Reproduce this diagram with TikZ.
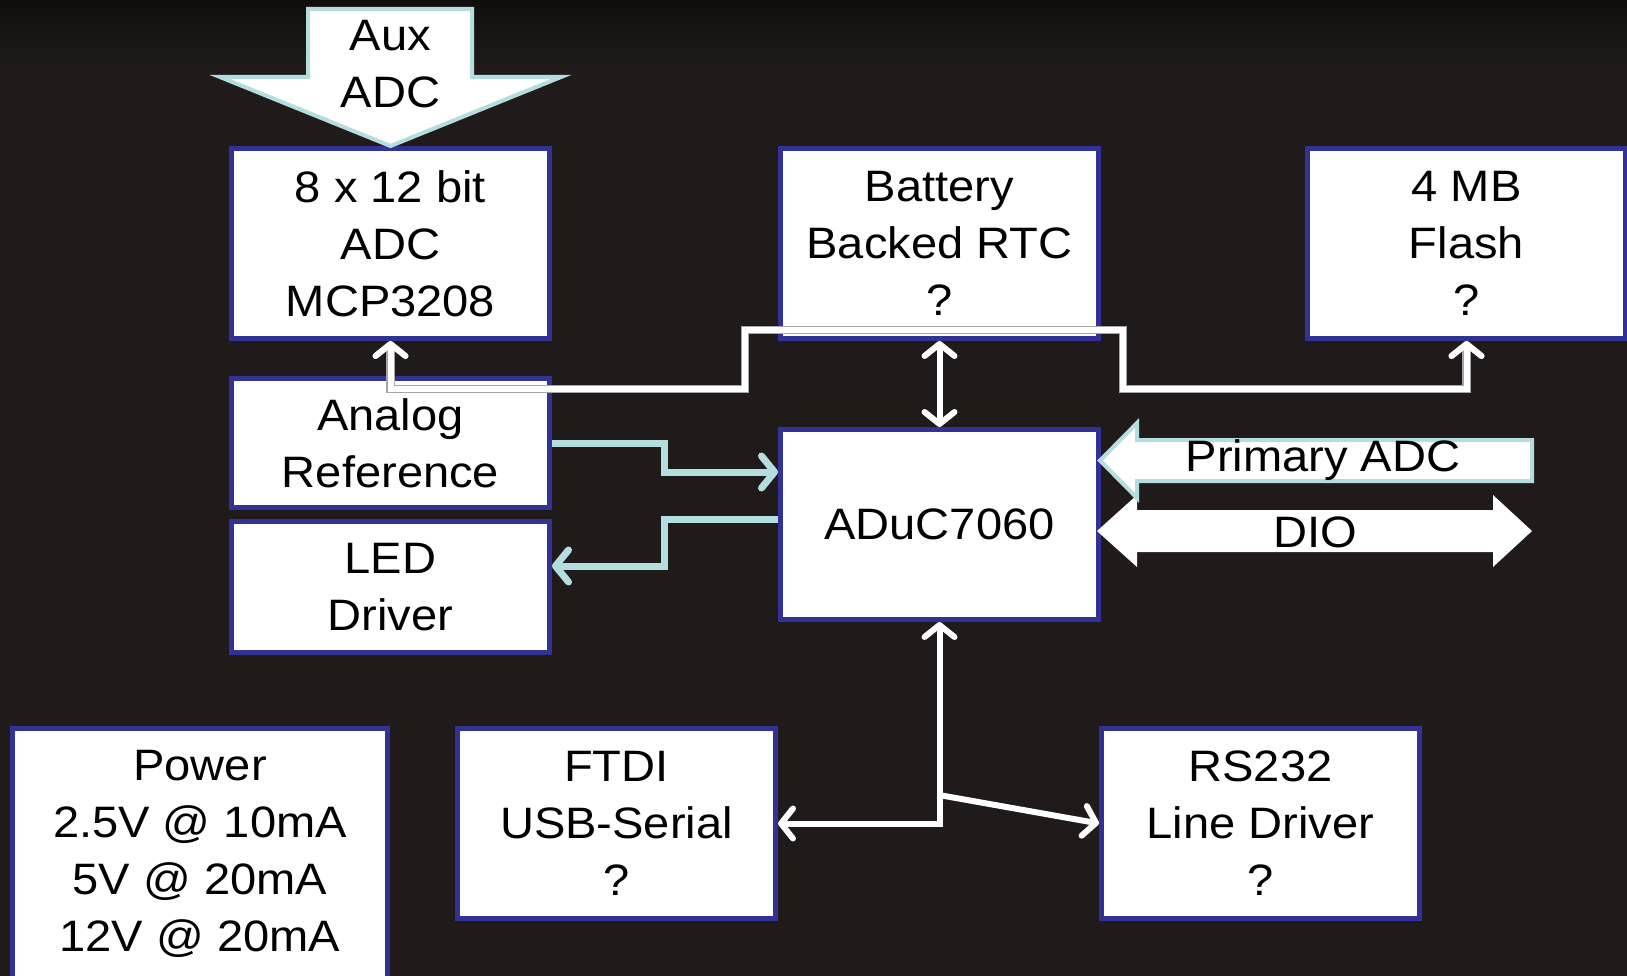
\documentclass[tikz,border=0pt]{standalone}
\usepackage{fontspec}
\setmainfont{Liberation Sans}[FakeStretch=1.07]
\usetikzlibrary{arrows.meta}
\definecolor{bgdark}{RGB}{32,27,26}
\definecolor{bgtop}{RGB}{16,13,13}
\definecolor{navy}{RGB}{50,50,150}
\definecolor{paleblue}{RGB}{180,221,224}
\tikzset{
  blockbox/.style={draw=navy, line width=5pt, fill=white, inner sep=0pt,
    minimum width=318pt, minimum height=190pt, align=center,
    font=\fontsize{44}{57}\selectfont},
  txt/.style={inner sep=0pt, align=center, font=\fontsize{44}{57}\selectfont},
  barb/.tip={Straight Barb[length=12pt,width=30pt,line width=6pt 0 0,line cap=round,line join=round]},
  pbarb/.tip={Straight Barb[length=13pt,width=32pt,line width=7pt 0 0,line cap=round,line join=round]},
  whiteline/.style={draw=white, line width=6pt, line join=miter},
  shadowline/.style={whiteline, preaction={draw=black!35, line width=8.5pt}},
  paleline/.style={draw=paleblue, line width=7pt, line join=miter},
}
\begin{document}
\begin{tikzpicture}[x=1pt,y=-1pt]
\useasboundingbox (0,0) rectangle (1627,976);
\fill[bgdark] (0,0) rectangle (1627,976);
\shade[top color=bgtop, bottom color=bgdark] (0,0) rectangle (1627,70);

% boxes
\node[blockbox] (adc) at (390.5,243.5) {8 x 12 bit\\ADC\\MCP3208};
\node[blockbox] (rtc) at (939.5,243.5) {Battery\\Backed RTC\\?};
\node[blockbox] (flash) at (1466.5,243.5) {4 MB\\Flash\\?};
\node[blockbox, minimum height=129pt] (aref) at (390.5,443) {Analog\\Reference};
\node[blockbox, minimum height=131pt] (led) at (390.5,587) {LED\\Driver};
\node[blockbox] (aduc) at (939.5,524.5) {ADuC7060};
\node[blockbox, minimum width=375pt, minimum height=251pt] (power) at (200,854)
  {Power\\2.5V @ 10mA\\5V @ 20mA\\12V @ 20mA};
\node[blockbox] (ftdi) at (616.5,823.5) {FTDI\\USB-Serial\\?};
\node[blockbox] (rs232) at (1260.5,823.5) {RS232\\Line Driver\\?};

% connectors
\coordinate (j1) at (745,389);
\coordinate (j2) at (1123,330);
\coordinate (j3) at (1123,389);
\draw[shadowline, barb-barb] (adc.south) |- (j1) |- (j2) -- (j3) -| (flash.south);
\draw[whiteline, barb-barb] (rtc.south) -- (aduc.north);

\coordinate (k1) at (664,472);
\coordinate (k2) at (664,519);
\coordinate (k3) at (664,566);
\draw[paleline, -pbarb] (aref.east) -| (k1) -- (k1 -| aduc.west);
\draw[paleline, -pbarb] (k2 -| aduc.west) -- (k2) -- (k3) -- (k3 -| led.east);

\draw[whiteline, barb-barb] (aduc.south) |- (ftdi.east);
\coordinate (br) at (939,795);
\draw[whiteline, -barb] (br) -- (rs232.west);

% block arrows
\draw[fill=white, draw=paleblue, line width=4pt, line join=miter]
  (308,9) -- (472,9) -- (472,77) -- (561,77) -- (390.5,146) -- (220,77) -- (308,77) -- cycle;
\node[txt] (auxadc) at (390.5,64) {Aux\\ADC};

\fill[white] (1097,531) -- (1137,495) -- (1137,510) -- (1493,510) -- (1493,495)
  -- (1532,531) -- (1493,567) -- (1493,552) -- (1137,552) -- (1137,567) -- cycle;
\node[txt] (dio) at (1315,532) {DIO};

\draw[fill=white, draw=paleblue, line width=4pt, line join=miter]
  (1532,440) -- (1532,481) -- (1137,481) -- (1137,498) -- (1100,460.5) -- (1137,423) -- (1137,440) -- cycle;
\node[txt] (padc) at (1323,460) {Primary ADC};
\end{tikzpicture}
\end{document}
